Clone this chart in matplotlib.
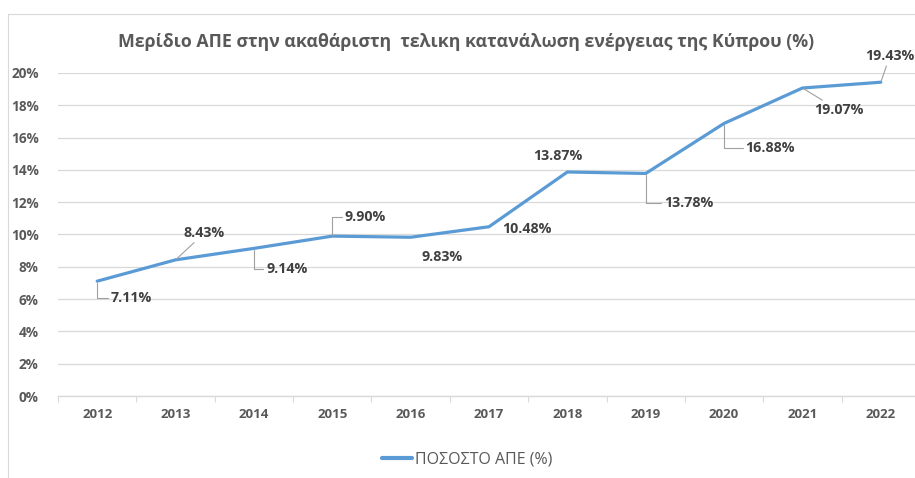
import matplotlib
matplotlib.use("Agg")
import matplotlib.pyplot as plt
from matplotlib.lines import Line2D

plt.rcParams['font.family'] = ['Open Sans', 'DejaVu Sans']

# data
years = ['2012', '2013', '2014', '2015', '2016', '2017', '2018', '2019', '2020', '2021', '2022']
share = [7.11, 8.43, 9.14, 9.90, 9.83, 10.48, 13.87, 13.78, 16.88, 19.07, 19.43]
labels = ['7.11%', '8.43%', '9.14%', '9.90%', '9.83%', '10.48%', '13.87%', '13.78%', '16.88%', '19.07%', '19.43%']

# label placement (pixels from the point) and leader style
offsets = [(34, -17), (29, 27), (33, -21), (33, 19), (31, -20), (38, -2),
           (-10, 16), (43, -30), (46, -25), (36, -22), (9, 26)]
leaders = ['angle', 'line', 'angle', 'angle', None, None, None, 'angle', 'angle', 'line', 'line']

fig = plt.figure(figsize=(9.15, 4.78), dpi=100)
ax = fig.add_axes([58 / 915, 82 / 478, 862 / 915, 323 / 478])

x = list(range(len(years)))
ax.plot(x, share, color='#5B9BD5', lw=2.3, solid_capstyle='round', label='ΠΟΣΟΣΤΟ ΑΠΕ (%)', zorder=3)

for i in x:
    dx, dy = offsets[i]
    kind = leaders[i]
    props = None
    if kind == 'angle':
        props = dict(arrowstyle='-', color='#a0a0a0', lw=0.8, shrinkA=0, shrinkB=1,
                     connectionstyle='angle,angleA=0,angleB=90,rad=0')
    elif kind == 'line':
        props = dict(arrowstyle='-', color='#a0a0a0', lw=0.8, shrinkA=0, shrinkB=1)
    ax.annotate(labels[i], xy=(i, share[i]), xytext=(dx, dy), textcoords='offset pixels',
                ha='center', va='center', fontsize=10.3, fontweight='bold', color='#404040',
                arrowprops=props, zorder=4)

ax.set_xlim(-0.5, len(years) - 0.5)
ax.set_ylim(0, 20)
ax.set_yticks(range(0, 21, 2))
ax.set_yticklabels([f'{v}%' for v in range(0, 21, 2)])
ax.set_xticks(x)
ax.set_xticklabels(years)
ax.set_xticks([i + 0.5 for i in x[:-1]] + [-0.5], minor=True)

ax.grid(axis='y', color='#d9d9d9', lw=0.9)
ax.set_axisbelow(True)
for s in ['top', 'right', 'left']:
    ax.spines[s].set_visible(False)
ax.spines['bottom'].set_color('#d9d9d9')
ax.spines['bottom'].set_linewidth(1.0)

ax.tick_params(axis='y', length=0, pad=14, labelsize=9.8, labelcolor='#595959')
ax.tick_params(axis='x', which='major', length=0, pad=9, labelsize=9.5, labelcolor='#595959')
ax.tick_params(axis='x', which='minor', length=4, width=0.8, color='#d9d9d9')
for t in ax.get_xticklabels() + ax.get_yticklabels():
    t.set_fontweight('bold')

fig.text(466 / 915, 1 - 42 / 478, 'Μερίδιο ΑΠΕ στην ακαθάριστη  τελικη κατανάλωση ενέργειας της Κύπρου (%)',
         ha='center', va='center', fontsize=12.8, fontweight='bold', color='#595959')

ax.legend(loc='center', bbox_to_anchor=(467 / 915, 1 - 460 / 478), bbox_transform=fig.transFigure,
          frameon=False, fontsize=11.5, labelcolor='#595959', handlelength=1.9, handletextpad=0.15)
for h in ax.get_legend().get_lines():
    h.set_linewidth(3.0)

# chart border
fig.add_artist(Line2D([8 / 915, 8 / 915], [0, 1 - 14 / 478], transform=fig.transFigure, color='#d9d9d9', lw=0.8))
fig.add_artist(Line2D([8 / 915, 1], [1 - 14 / 478, 1 - 14 / 478], transform=fig.transFigure, color='#d9d9d9', lw=0.8))

fig.savefig('out.png', dpi=100)
